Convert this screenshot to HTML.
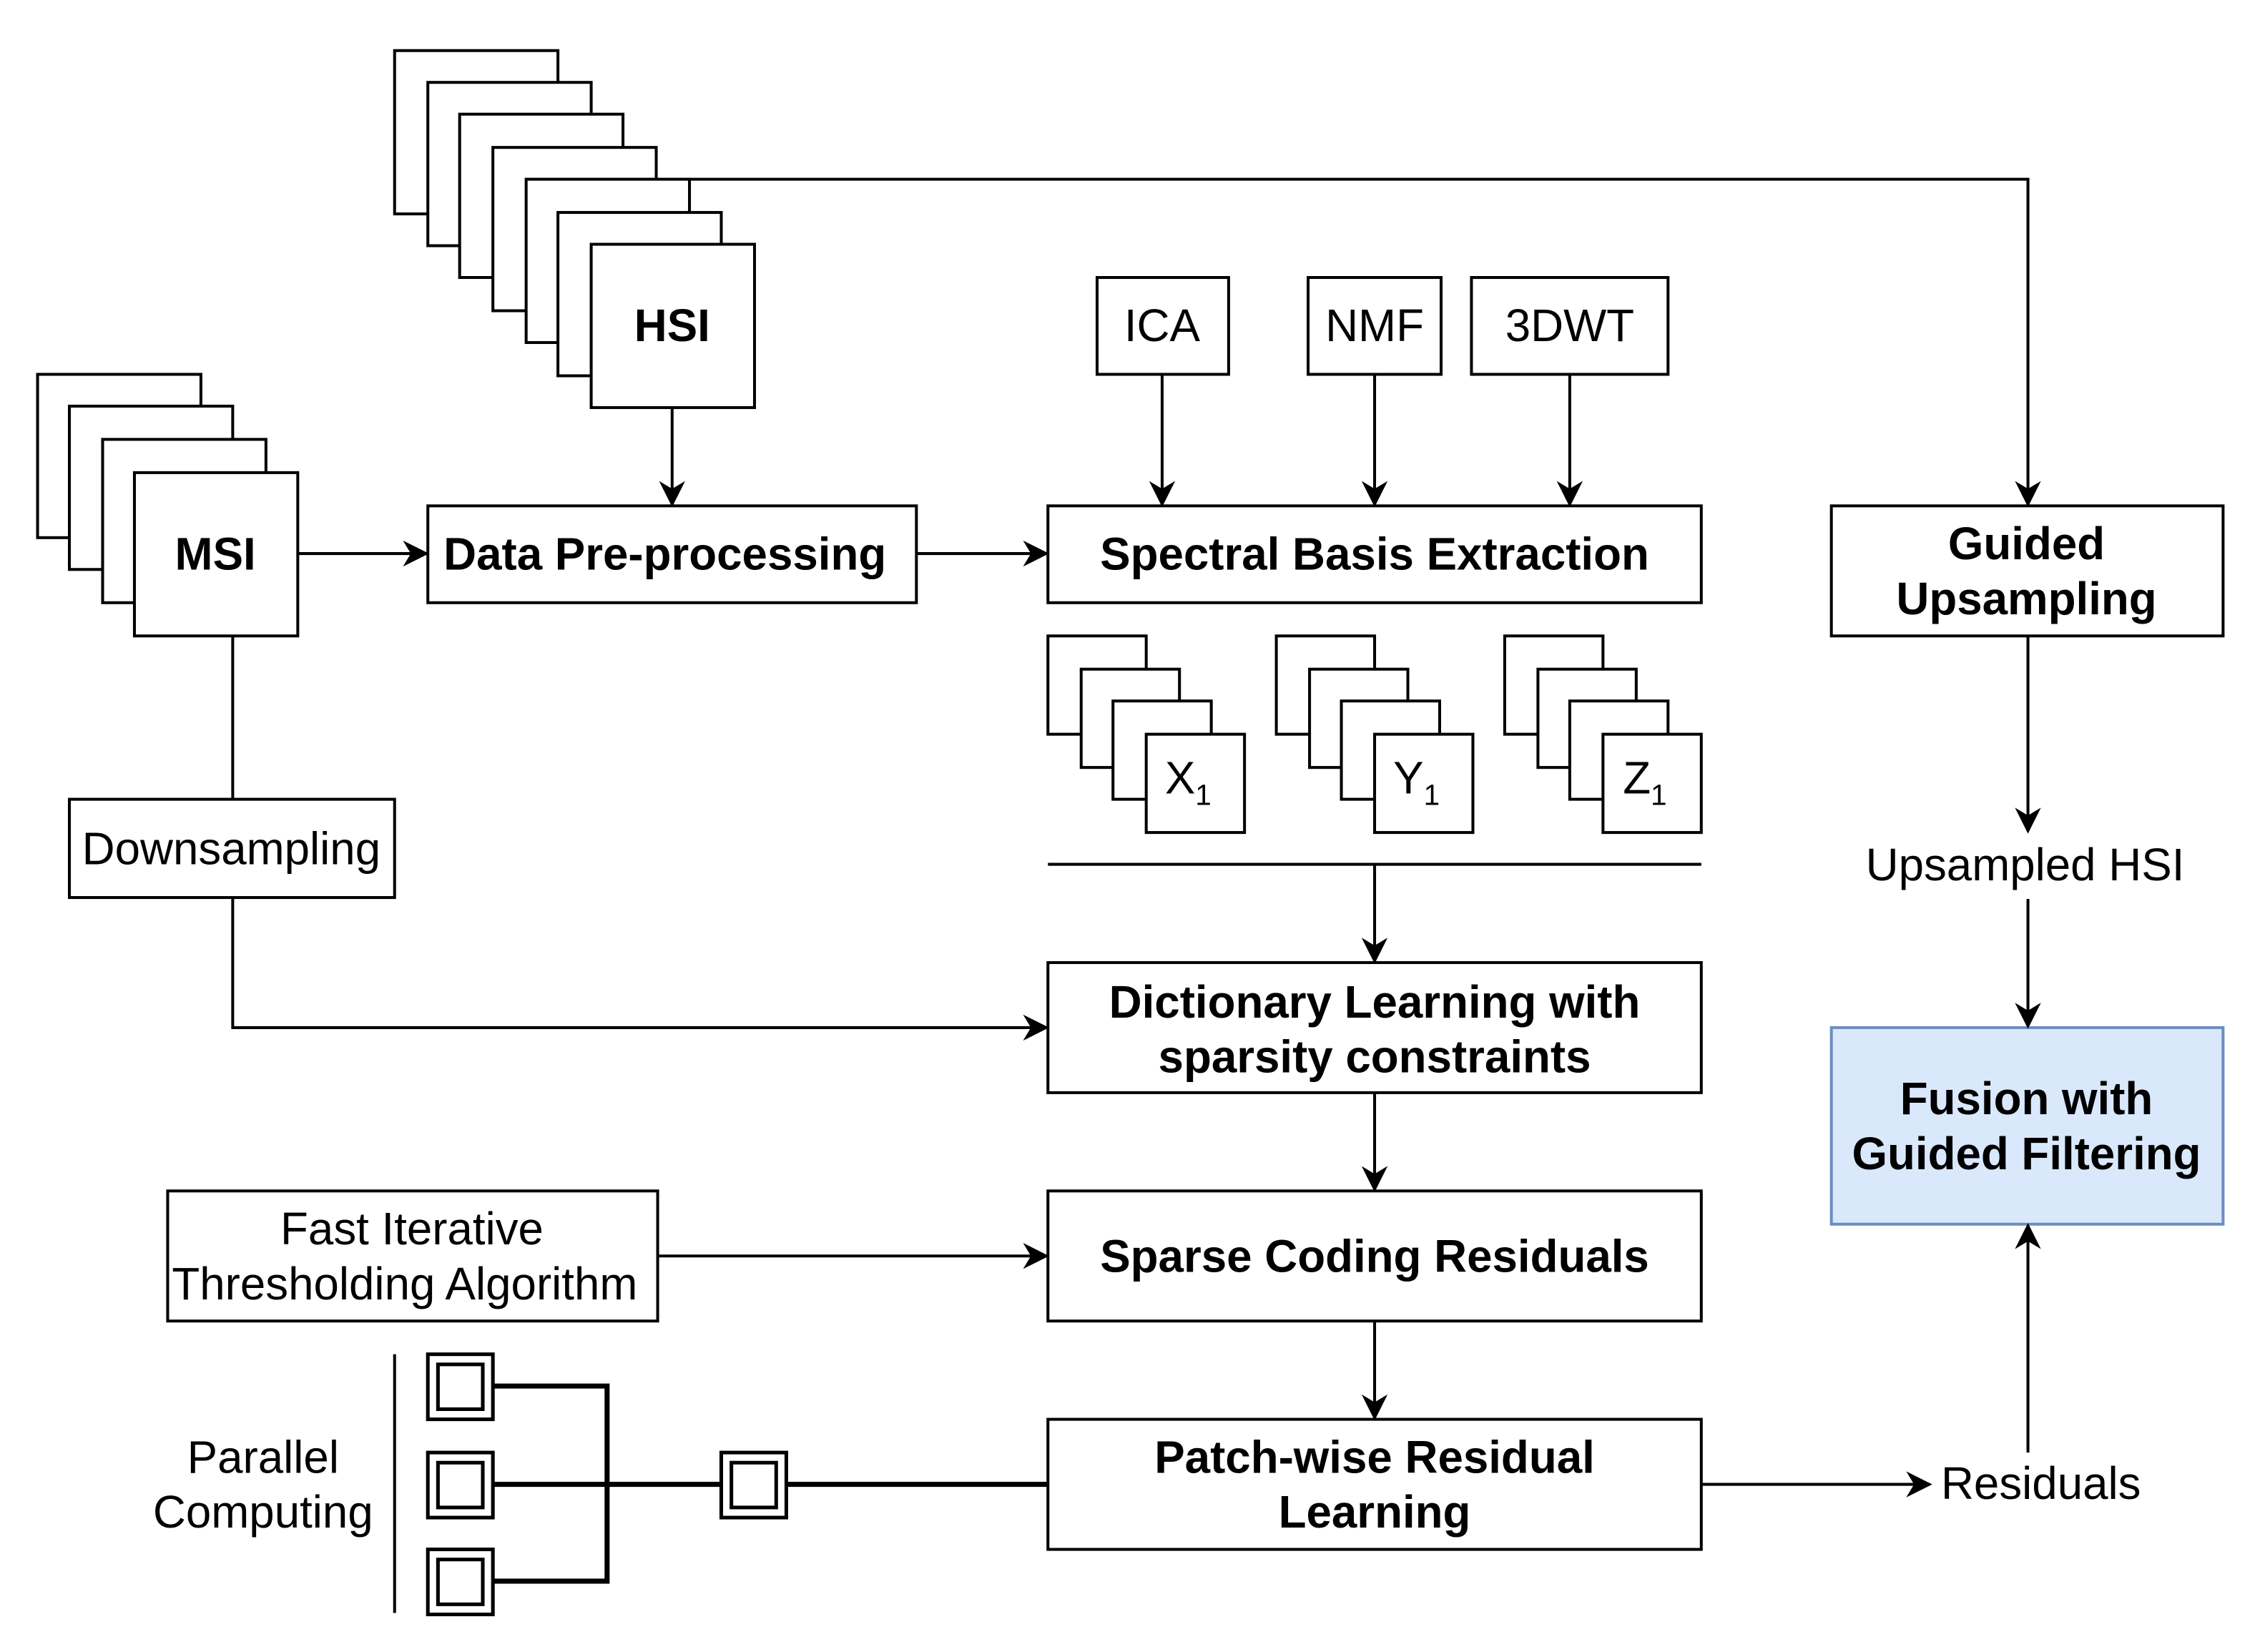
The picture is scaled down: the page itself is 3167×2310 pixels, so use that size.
<!DOCTYPE html>
<html><head><meta charset="utf-8"><style>
html,body{margin:0;padding:0;background:#fff;}
svg{display:block;}
text{font-family:"Liberation Sans",sans-serif;font-size:31.5px;fill:#000;}
.b{font-weight:bold;}
</style></head><body>
<svg width="3167" height="2310" viewBox="0 0 1567 1143" preserveAspectRatio="none" xmlns="http://www.w3.org/2000/svg">
<defs>
<marker id="ar" viewBox="0 0 10 10" markerWidth="18" markerHeight="18" refX="9" refY="5" orient="auto" markerUnits="userSpaceOnUse"><path d="M0,0 L10,5 L0,10 L3,5 z" fill="#000"/></marker></defs>
<g fill="#fff" stroke="#000" stroke-width="2">
<rect x="273" y="35" width="113" height="113"/><rect x="296" y="57" width="113" height="113"/><rect x="318" y="79" width="113" height="113"/><rect x="341" y="102" width="113" height="113"/><rect x="364" y="124" width="113" height="113"/><rect x="386" y="147" width="113" height="113"/><rect x="409" y="169" width="113" height="113"/>
<rect x="26" y="259" width="113" height="113"/><rect x="48" y="281" width="113" height="113"/><rect x="71" y="304" width="113" height="113"/><rect x="93" y="327" width="113" height="113"/>
<rect x="296" y="350" width="338" height="67"/>
<rect x="725" y="350" width="452" height="67"/>
<rect x="759" y="192" width="91" height="67"/><rect x="905" y="192" width="92" height="67"/><rect x="1018" y="192" width="136" height="67"/>
<rect x="1267" y="350" width="271" height="90"/>
<rect x="725" y="440" width="68" height="68"/><rect x="748" y="463" width="68" height="68"/><rect x="770" y="485" width="68" height="68"/><rect x="793" y="508" width="68" height="68"/>
<rect x="883" y="440" width="68" height="68"/><rect x="906" y="463" width="68" height="68"/><rect x="928" y="485" width="68" height="68"/><rect x="951" y="508" width="68" height="68"/>
<rect x="1041" y="440" width="68" height="68"/><rect x="1064" y="463" width="68" height="68"/><rect x="1086" y="485" width="68" height="68"/><rect x="1109" y="508" width="68" height="68"/>
<rect x="48" y="553" width="225" height="68"/>
<rect x="725" y="666" width="452" height="90"/>
<rect x="725" y="824" width="452" height="90"/>
<rect x="116" y="824" width="339" height="90"/>
<rect x="725" y="982" width="452" height="90"/>
<rect x="1267" y="711" width="271" height="136" fill="#dae8fc" stroke="#6c8ebf"/>
</g>
<g fill="none" stroke="#000" stroke-width="2">
<polyline points="477,124 1403,124 1403,349" marker-end="url(#ar)"/>
<line x1="206" y1="383" x2="295" y2="383" marker-end="url(#ar)"/>
<line x1="465" y1="282" x2="465" y2="349" marker-end="url(#ar)"/>
<line x1="634" y1="383" x2="724" y2="383" marker-end="url(#ar)"/>
<line x1="804" y1="259" x2="804" y2="349" marker-end="url(#ar)"/>
<line x1="951" y1="259" x2="951" y2="349" marker-end="url(#ar)"/>
<line x1="1086" y1="259" x2="1086" y2="349" marker-end="url(#ar)"/>
<line x1="725" y1="598" x2="1177" y2="598"/>
<line x1="951" y1="598" x2="951" y2="665" marker-end="url(#ar)"/>
<line x1="161" y1="440" x2="161" y2="553"/>
<polyline points="161,621 161,711 724,711" marker-end="url(#ar)"/>
<line x1="951" y1="756" x2="951" y2="823" marker-end="url(#ar)"/>
<line x1="455" y1="869" x2="724" y2="869" marker-end="url(#ar)"/>
<line x1="951" y1="914" x2="951" y2="981" marker-end="url(#ar)"/>
<line x1="1177" y1="1027" x2="1335" y2="1027" marker-end="url(#ar)"/>
<line x1="1403" y1="1005" x2="1403" y2="848" marker-end="url(#ar)"/>
<line x1="1403" y1="440" x2="1403" y2="575" marker-end="url(#ar)"/>
<line x1="1403" y1="622" x2="1403" y2="710" marker-end="url(#ar)"/>
<line x1="273" y1="937" x2="273" y2="1116"/>
</g>
<g fill="none" stroke="#000" stroke-width="3.5">
<polyline points="341,959 420,959 420,1094 341,1094"/>
<line x1="341" y1="1027" x2="499" y2="1027"/>
<line x1="544" y1="1027" x2="725" y2="1027"/>
</g>
<g fill="#fff" stroke="#000" stroke-width="2.5">
<rect x="296" y="937" width="45" height="45"/><rect x="303" y="944" width="31" height="31"/>
<rect x="296" y="1005" width="45" height="45"/><rect x="303" y="1012" width="31" height="31"/>
<rect x="296" y="1072" width="45" height="45"/><rect x="303" y="1079" width="31" height="31"/>
<rect x="499" y="1005" width="45" height="45"/><rect x="506" y="1012" width="31" height="31"/>
</g>
<g text-anchor="middle">
<text x="465" y="236" class="b">HSI</text>
<text x="149" y="394" class="b">MSI</text>
<text x="460" y="394" class="b">Data Pre-processing</text>
<text x="951" y="394" class="b">Spectral Basis Extraction</text>
<text x="804" y="236">ICA</text>
<text x="951" y="236">NMF</text>
<text x="1086" y="236">3DWT</text>
<text x="1402" y="387" class="b">Guided</text>
<text x="1402" y="425" class="b">Upsampling</text>
<text x="822" y="549">X<tspan font-size="20" dy="8">1</tspan></text>
<text x="980" y="549">Y<tspan font-size="20" dy="8">1</tspan></text>
<text x="1138" y="549">Z<tspan font-size="20" dy="8">1</tspan></text>
<text x="160" y="598">Downsampling</text>
<text x="1401" y="609">Upsampled HSI</text>
<text x="951" y="704" class="b">Dictionary Learning with</text>
<text x="951" y="742" class="b">sparsity constraints</text>
<text x="1402" y="771" class="b">Fusion with</text>
<text x="1402" y="809" class="b">Guided Filtering</text>
<text x="951" y="880" class="b">Sparse Coding Residuals</text>
<text x="285" y="861">Fast Iterative</text>
<text x="280" y="899">Thresholding Algorithm</text>
<text x="951" y="1019" class="b">Patch-wise Residual</text>
<text x="951" y="1057" class="b">Learning</text>
<text x="182" y="1019">Parallel</text>
<text x="182" y="1057">Computing</text>
<text x="1412" y="1037">Residuals</text>
</g>
</svg>
</body></html>
